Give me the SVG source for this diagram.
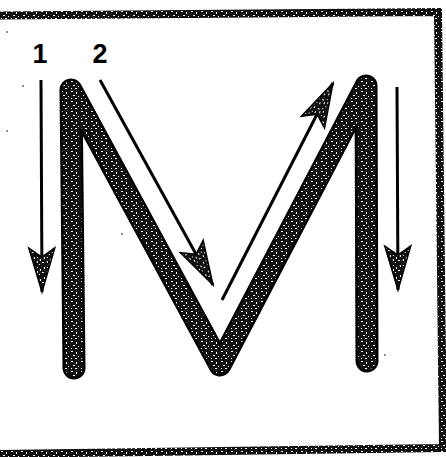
<svg xmlns="http://www.w3.org/2000/svg" width="446" height="457" viewBox="0 0 446 457">
  <defs>
    <pattern id="speck" width="10" height="10" patternUnits="userSpaceOnUse">
      <rect width="10" height="10" fill="#111"/>
      <rect x="1" y="1" width="2" height="1" fill="#fff"/>
      <rect x="6" y="2" width="1" height="2" fill="#fff"/>
      <rect x="3" y="5" width="2" height="1" fill="#fff"/>
      <rect x="8" y="6" width="1" height="1" fill="#fff"/>
      <rect x="1" y="8" width="1" height="1" fill="#fff"/>
      <rect x="5" y="8" width="2" height="1" fill="#fff"/>
    </pattern>
    <marker id="head" markerUnits="userSpaceOnUse" markerWidth="50" markerHeight="30" refX="46" refY="14" orient="auto" overflow="visible">
      <path d="M46,14 L2,1 L11,14 L2,27 Z" fill="url(#speck)" stroke="#000" stroke-width="1.5" stroke-linejoin="miter"/>
    </marker>
  </defs>
  <style>
    .border { fill: none; stroke: url(#speck); stroke-width: 8; }
    .outline { fill: none; stroke: #000; stroke-width: 23; stroke-linecap: round; stroke-linejoin: round; }
    .fill { fill: none; stroke: url(#speck); stroke-width: 18; stroke-linecap: round; stroke-linejoin: round; }
    .arrow { fill: none; stroke: #000; stroke-width: 3; marker-end: url(#head); }
    .num { font-family: "Liberation Sans", Arial, sans-serif; font-size: 27px; font-weight: bold; fill: #000; text-anchor: middle; }
  </style>
  <rect width="446" height="457" fill="#fff"/>

  <g id="frame">
    <polyline class="border" points="0,15.5 438,12 443,448 0,454"/>
  </g>

  <g id="letter-M">
    <polyline class="outline" points="74,368 71,90 220,365 366,86 367,361"/>
    <polyline class="fill" points="74,368 71,90 220,365 366,86 367,361"/>
  </g>

  <g id="labels">
    <text id="label-1" class="num" x="40" y="63">1</text>
    <text id="label-2" class="num" x="100" y="63">2</text>
  </g>

  <g id="connectors">
    <line class="arrow" x1="41" y1="80" x2="42" y2="292"/>
    <line class="arrow" x1="100" y1="80" x2="213" y2="285"/>
    <line class="arrow" x1="222" y1="300" x2="333" y2="83"/>
    <line class="arrow" x1="397" y1="87" x2="398" y2="290"/>
  </g>

  <g id="specks" fill="#000">
    <circle cx="7" cy="32" r="0.8"/>
    <circle cx="23" cy="86" r="0.8"/>
    <circle cx="7" cy="131" r="0.8"/>
    <circle cx="122" cy="234" r="0.8"/>
    <circle cx="385" cy="355" r="0.8"/>
  </g>
</svg>
